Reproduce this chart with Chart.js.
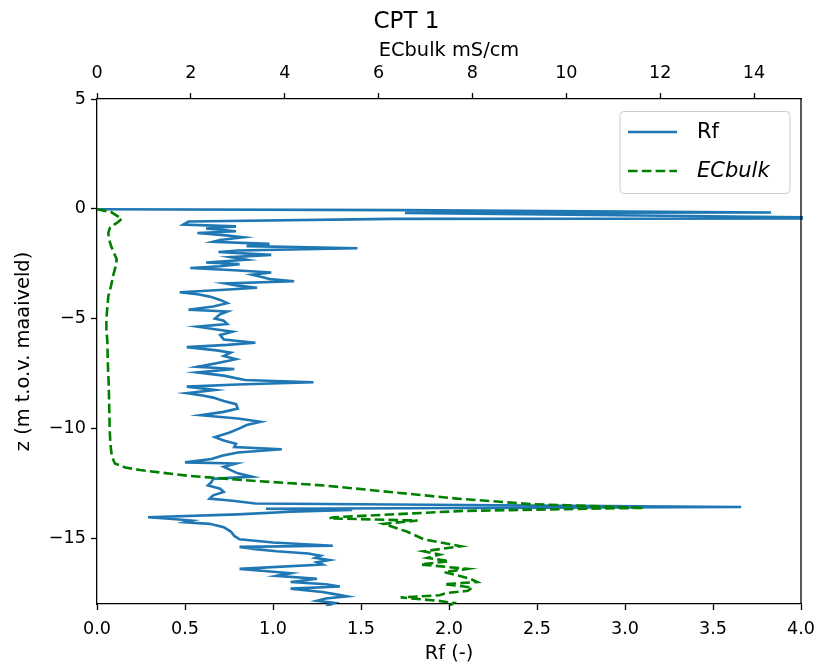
<!DOCTYPE html>
<html>
<head>
<meta charset="utf-8">
<script src="https://cdn.jsdelivr.net/npm/chart.js@4/dist/chart.umd.min.js"></script>
<style>
  html, body { margin: 0; padding: 0; background: #fff; }
  #chart { display: block; }
</style>
</head>
<body>
<canvas id="chart" width="817" height="666"></canvas>
<script>
// sounding CPT 1: depth (m t.o.v. maaiveld) and values
const rfDepth = [-0.02, -0.06, -0.17, -0.19, -0.44, -0.46, -0.58, -0.72, -0.80, -0.90, -1.02, -1.10, -1.20, -1.30, -1.42, -1.50,
  -1.60, -1.70, -1.80, -1.90, -1.97, -2.10, -2.20, -2.32, -2.45, -2.52, -2.62, -2.70, -2.80, -2.90, -3.00, -3.10, -3.20,
  -3.30, -3.40, -3.50, -3.60, -3.70, -3.80, -3.90, -4.00, -4.15, -4.30, -4.45, -4.60, -4.68, -4.80, -5.00, -5.10, -5.25,
  -5.37, -5.50, -5.60, -5.75, -5.95, -6.10, -6.20, -6.30, -6.45, -6.55, -6.70, -6.85, -7.00, -7.20, -7.30, -7.45, -7.60,
  -7.80, -7.90, -8.00, -8.10, -8.25, -8.40, -8.50, -8.60, -8.75, -8.90, -9.10, -9.25, -9.40, -9.55, -9.70, -9.85, -10.00,
  -10.20, -10.40, -10.55, -10.70, -10.85, -10.95, -11.10, -11.25, -11.40, -11.55, -11.60, -11.75, -11.90, -12.05, -12.20,
  -12.30, -12.45, -12.60, -12.75, -12.90, -13.05, -13.20, -13.30, -13.42, -13.58, -13.66, -13.72, -13.80, -13.92, -14.05,
  -14.12, -14.20, -14.28, -14.35, -14.50, -14.70, -14.90, -15.05, -15.20, -15.35, -15.40, -15.50, -15.60, -15.70, -15.80,
  -15.90, -16.00, -16.10, -16.20, -16.40, -16.50, -16.60, -16.72, -16.85, -16.95, -17.00, -17.10, -17.20, -17.30, -17.45,
  -17.55, -17.65, -17.75, -17.85, -17.95, -18.10];
const rfValues = [0.00, 1.73, 3.83, 1.75, 4.60, 1.68, 0.52, 0.49, 0.79, 0.62, 0.79, 0.57, 0.72, 0.83, 0.70, 0.66,
  0.98, 0.85, 1.48, 0.80, 0.69, 0.99, 0.76, 0.85, 0.62, 0.81, 0.70, 0.53, 0.78, 0.99, 0.88, 0.93, 0.98,
  1.12, 0.73, 0.80, 0.91, 0.70, 0.47, 0.58, 0.64, 0.70, 0.74, 0.66, 0.52, 0.74, 0.70, 0.67, 0.72, 0.74,
  0.57, 0.68, 0.77, 0.70, 0.72, 0.90, 0.74, 0.51, 0.68, 0.76, 0.72, 0.79, 0.70, 0.57, 0.78, 0.57, 0.72,
  0.84, 1.23, 0.80, 0.51, 0.67, 0.51, 0.60, 0.66, 0.72, 0.79, 0.80, 0.72, 0.59, 0.80, 0.93, 0.85, 0.81,
  0.75, 0.67, 0.72, 0.79, 0.78, 1.05, 0.80, 0.71, 0.65, 0.50, 0.79, 0.72, 0.76, 0.80, 0.88,
  0.66, 0.65, 0.63, 0.70, 0.72, 0.66, 0.64, 0.77, 0.90, 3.66, 0.96, 1.45, 1.10, 0.80, 0.29,
  0.41, 0.54, 0.50, 0.64, 0.72, 0.76, 0.78, 0.81, 1.00, 1.34, 0.81, 0.90, 1.02, 1.20, 1.27,
  1.24, 1.32, 1.25, 1.28, 0.81, 0.95, 1.10, 1.02, 1.25, 1.15, 1.10, 1.30, 1.38, 1.10, 1.28,
  1.35, 1.42, 1.30, 1.25, 1.35, 1.30];

const ecDepth = [-0.02, -0.15, -0.45, -0.60, -0.85, -1.10, -1.40, -1.70, -2.00, -2.30, -2.60, -3.00, -3.50, -4.00, -4.50,
  -5.00, -5.50, -6.00, -7.00, -8.00, -9.00, -10.00, -10.50, -11.00, -11.30, -11.60, -11.78, -11.90, -12.17, -12.40,
  -12.60, -12.90, -13.20, -13.45, -13.62, -13.76, -14.05, -14.10, -14.20, -14.35, -14.70, -15.05, -15.37, -15.60,
  -15.75, -15.90, -16.05, -16.20, -16.40, -16.55, -16.70, -16.85, -17.00, -17.10, -17.25, -17.40, -17.50, -17.60,
  -17.70, -17.85, -17.95, -18.10];
const ecValues = [0.00, 0.30, 0.53, 0.45, 0.28, 0.24, 0.26, 0.30, 0.36, 0.42, 0.40, 0.35, 0.30, 0.24, 0.22,
  0.20, 0.20, 0.22, 0.23, 0.25, 0.26, 0.27, 0.28, 0.30, 0.32, 0.38, 0.60, 0.92, 1.98, 3.41,
  4.83, 6.25, 7.68, 9.24, 11.65, 7.80, 5.04, 4.95, 6.83, 6.10, 6.60, 6.96, 7.75, 6.96,
  7.30, 7.04, 7.50, 6.90, 7.89, 7.40, 7.68, 7.95, 8.10, 7.40, 8.00, 7.90, 7.45, 7.30,
  6.47, 7.25, 7.60, 7.50];

const rfRange = [0, 4];
const ecRange = [0, 15];
const depthRange = [-18, 5];

const FONT = 'DejaVu Sans';
Chart.defaults.font.family = FONT;
Chart.defaults.color = '#000';

const toMinus = v => String(v).replace('-', '\u2212');

const rightBorder = {
  id: 'rightBorder',
  afterDraw(chart) {
    const {ctx, chartArea: a} = chart;
    ctx.save();
    ctx.strokeStyle = '#000';
    ctx.lineWidth = 1.3;
    ctx.beginPath();
    ctx.moveTo(a.right, a.top);
    ctx.lineTo(a.right, a.bottom);
    ctx.stroke();
    ctx.restore();
  }
};

// legend box drawn inside the plot, upper right like matplotlib
const boxLegend = {
  id: 'boxLegend',
  afterDraw(chart) {
    const {ctx, chartArea: a} = chart;
    const left = a.right - 181, top = a.top + 12.5, w = 170, h = 82;
    ctx.save();
    ctx.beginPath();
    ctx.roundRect(left, top, w, h, 4);
    ctx.fillStyle = 'rgba(255,255,255,0.8)';
    ctx.fill();
    ctx.strokeStyle = '#cccccc';
    ctx.lineWidth = 1;
    ctx.stroke();

    const items = chart.data.datasets.slice().reverse();
    items.forEach((ds, i) => {
      const y = top + 20.5 + i * 39;
      ctx.beginPath();
      ctx.setLineDash(ds.borderDash || []);
      ctx.strokeStyle = ds.borderColor;
      ctx.lineWidth = ds.borderWidth;
      ctx.moveTo(left + 8, y);
      ctx.lineTo(left + 57, y);
      ctx.stroke();
      ctx.setLineDash([]);
      ctx.fillStyle = '#000';
      ctx.font = (ds.label === 'ECbulk' ? 'italic ' : '') + '21px "' + FONT + '"';
      ctx.textBaseline = 'middle';
      ctx.fillText(ds.label, left + 77, y + 1);
    });
    ctx.restore();
  }
};

const axisLine = {display: true, color: '#000', width: 1.3};
const tickMarks = {display: true, drawOnChartArea: false, drawTicks: true, tickLength: 6, tickColor: '#000', tickWidth: 1.3};
const noSidePad = s => { s.paddingLeft = 0; s.paddingRight = 0; };

new Chart(document.getElementById('chart'), {
  type: 'scatter',
  data: {
    datasets: [
      {
        label: 'ECbulk',
        data: ecValues.map((v, i) => ({x: v, y: ecDepth[i]})),
        xAxisID: 'x2',
        yAxisID: 'y',
        showLine: true,
        borderColor: '#008000',
        borderWidth: 2.6,
        borderDash: [9.6, 4.2],
        pointRadius: 0,
        order: 0,
        clip: 2
      },
      {
        label: 'Rf',
        data: rfValues.map((v, i) => ({x: v, y: rfDepth[i]})),
        xAxisID: 'x',
        yAxisID: 'y',
        showLine: true,
        borderColor: '#1f77b4',
        borderWidth: 2.6,
        pointRadius: 0,
        order: 1,
        clip: 2
      }
    ]
  },
  options: {
    responsive: false,
    animation: false,
    layout: {padding: {left: 12, right: 16, top: 0, bottom: 0}},
    plugins: {
      legend: {display: false},
      tooltip: {enabled: false},
      title: {
        display: true,
        text: 'CPT 1',
        color: '#000',
        font: {size: 23, weight: 'normal'},
        padding: {top: 8.7, bottom: 0}
      }
    },
    scales: {
      x: {
        type: 'linear',
        position: 'bottom',
        min: rfRange[0],
        max: rfRange[1],
        border: axisLine,
        grid: tickMarks,
        ticks: {stepSize: 0.5, padding: 9, color: '#000', font: {size: 17.6}, callback: v => v.toFixed(1), maxRotation: 0},
        title: {display: true, text: 'Rf (-)', color: '#000', font: {size: 19.4}, padding: {top: 0, bottom: 0}},
        afterFit: s => { s.height = 62; noSidePad(s); }
      },
      x2: {
        type: 'linear',
        position: 'top',
        min: ecRange[0],
        max: ecRange[1],
        border: axisLine,
        grid: tickMarks,
        ticks: {stepSize: 2, includeBounds: false, padding: 9, color: '#000', font: {size: 17.6}, maxRotation: 0},
        title: {display: true, text: 'ECbulk mS/cm', color: '#000', font: {size: 19.4}, padding: {top: 3, bottom: 0}},
        afterFit: s => { s.height = 62.7; noSidePad(s); }
      },
      y: {
        type: 'linear',
        position: 'left',
        min: depthRange[0],
        max: depthRange[1],
        border: axisLine,
        grid: tickMarks,
        ticks: {stepSize: 5, includeBounds: false, padding: 5, color: '#000', font: {size: 17.6}, callback: v => toMinus(v)},
        title: {display: true, text: 'z (m t.o.v. maaiveld)', color: '#000', font: {size: 19.4}, padding: {top: 0, bottom: 0}},
        afterFit: s => { s.width = 85; s.paddingTop = 0; s.paddingBottom = 0; }
      }
    }
  },
  plugins: [rightBorder, boxLegend]
});
</script>
</body>
</html>
